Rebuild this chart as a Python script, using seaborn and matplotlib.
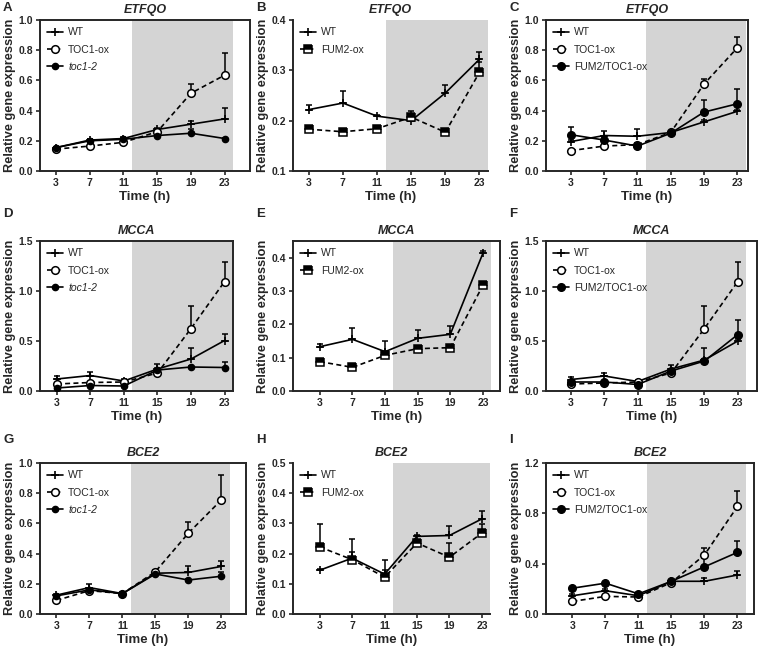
import numpy as np
import pandas as pd
import matplotlib
matplotlib.use("Agg")
import matplotlib.pyplot as plt
import seaborn as sns

hours = [3, 7, 11, 15, 19, 23]

# A - ETFQO (TOC1-ox / toc1-2)
a_wt = [0.155, 0.205, 0.215, 0.275, 0.31, 0.345]
a_wt_err = [0.005, 0.01, 0.01, 0.01, 0.02, 0.075]
a_toc1ox = [0.145, 0.165, 0.19, 0.26, 0.515, 0.635]
a_toc1ox_err = [0.005, 0.005, 0.01, 0.01, 0.06, 0.145]
a_toc12 = [0.155, 0.2, 0.21, 0.235, 0.25, 0.215]
a_toc12_err = [0.005, 0.01, 0.01, 0.01, 0.03, 0.005]

# B - ETFQO (FUM2-ox)
b_wt = [0.222, 0.235, 0.209, 0.2, 0.255, 0.322]
b_wt_err = [0.009, 0.023, 0.003, 0.004, 0.015, 0.014]
b_fum2ox = [0.183, 0.178, 0.184, 0.207, 0.177, 0.296]
b_fum2ox_err = [0.003, 0.003, 0.004, 0.013, 0.003, 0.02]

# C - ETFQO (FUM2/TOC1-ox)
c_wt = [0.195, 0.235, 0.23, 0.255, 0.325, 0.395]
c_wt_err = [0.01, 0.03, 0.045, 0.01, 0.01, 0.01]
c_toc1ox = [0.135, 0.165, 0.175, 0.255, 0.575, 0.815]
c_toc1ox_err = [0.005, 0.005, 0.01, 0.01, 0.035, 0.07]
c_fum2toc1 = [0.24, 0.205, 0.165, 0.25, 0.39, 0.445]
c_fum2toc1_err = [0.053, 0.02, 0.01, 0.01, 0.078, 0.1]

# D - MCCA (TOC1-ox / toc1-2)
d_wt = [0.12, 0.155, 0.1, 0.22, 0.32, 0.505]
d_wt_err = [0.03, 0.035, 0.02, 0.047, 0.115, 0.065]
d_toc1ox = [0.07, 0.085, 0.09, 0.18, 0.625, 1.095]
d_toc1ox_err = [0.01, 0.01, 0.01, 0.02, 0.23, 0.197]
d_toc12 = [0.03, 0.055, 0.05, 0.21, 0.24, 0.235]
d_toc12_err = [0.005, 0.005, 0.005, 0.02, 0.01, 0.06]

# E - MCCA (FUM2-ox)
e_wt = [0.133, 0.155, 0.118, 0.158, 0.17, 0.413]
e_wt_err = [0.007, 0.033, 0.032, 0.024, 0.025, 0.008]
e_fum2ox = [0.088, 0.071, 0.107, 0.127, 0.13, 0.317]
e_fum2ox_err = [0.003, 0.003, 0.003, 0.003, 0.003, 0.005]

# F - MCCA (FUM2/TOC1-ox)
f_wt = [0.115, 0.15, 0.095, 0.22, 0.31, 0.5]
f_wt_err = [0.03, 0.035, 0.02, 0.045, 0.12, 0.02]
f_toc1ox = [0.07, 0.08, 0.09, 0.18, 0.625, 1.095]
f_toc1ox_err = [0.01, 0.01, 0.01, 0.02, 0.23, 0.2]
f_fum2toc1 = [0.09, 0.09, 0.065, 0.2, 0.3, 0.565]
f_fum2toc1_err = [0.01, 0.01, 0.01, 0.02, 0.02, 0.15]

# G - BCE2 (TOC1-ox / toc1-2)
g_wt = [0.125, 0.175, 0.135, 0.27, 0.275, 0.315]
g_wt_err = [0.01, 0.025, 0.01, 0.01, 0.045, 0.038]
g_toc1ox = [0.09, 0.155, 0.135, 0.28, 0.535, 0.755]
g_toc1ox_err = [0.005, 0.01, 0.005, 0.01, 0.073, 0.165]
g_toc12 = [0.12, 0.16, 0.135, 0.265, 0.225, 0.25]
g_toc12_err = [0.005, 0.01, 0.005, 0.01, 0.005, 0.027]

# H - BCE2 (FUM2-ox)
h_wt = [0.145, 0.185, 0.132, 0.257, 0.26, 0.315]
h_wt_err = [0.003, 0.02, 0.015, 0.005, 0.033, 0.026]
h_fum2ox = [0.222, 0.18, 0.122, 0.235, 0.188, 0.268]
h_fum2ox_err = [0.077, 0.067, 0.058, 0.005, 0.046, 0.03]

# I - BCE2 (FUM2/TOC1-ox)
i_wt = [0.145, 0.185, 0.145, 0.26, 0.26, 0.31]
i_wt_err = [0.01, 0.01, 0.01, 0.01, 0.03, 0.033]
i_toc1ox = [0.1, 0.14, 0.135, 0.25, 0.47, 0.855]
i_toc1ox_err = [0.005, 0.005, 0.005, 0.01, 0.057, 0.12]
i_fum2toc1 = [0.205, 0.245, 0.16, 0.26, 0.375, 0.49]
i_fum2toc1_err = [0.005, 0.005, 0.005, 0.01, 0.07, 0.088]

sns.set_style("ticks")
plt.rcParams['font.family'] = ['Liberation Sans', 'DejaVu Sans']

# line look for each genotype
styles = {
    "WT": dict(linestyle="-", marker="+", markersize=6, markeredgewidth=1.2),
    "TOC1-ox": dict(linestyle=(0, (3, 2)), marker="o", markersize=5.5,
                    markerfacecolor="white", markeredgewidth=1.1),
    "toc1-2": dict(linestyle="-", marker="o", markersize=4.5,
                   markerfacecolor="black", markeredgewidth=1.0),
    "FUM2-ox": dict(linestyle=(0, (3, 2)), marker="s", markersize=5.5,
                    fillstyle="top", markerfacecolor="black",
                    markerfacecoloralt="white", markeredgewidth=1.1),
    "FUM2/TOC1-ox": dict(linestyle="-", marker="o", markersize=5.5,
                         markerfacecolor="black", markeredgewidth=1.0),
}

# letter, gene, series, ylim, yticks, xlim, box, rect in pixels (left, top, right, bottom), letter y
panels = [
    ("A", "ETFQO", [("WT", a_wt, a_wt_err), ("TOC1-ox", a_toc1ox, a_toc1ox_err), ("toc1-2", a_toc12, a_toc12_err)],
     (0, 1.0), [0, 0.2, 0.4, 0.6, 0.8, 1.0], (1.1, 26.0), True, (40, 20, 250, 171), 8),
    ("B", "ETFQO", [("WT", b_wt, b_wt_err), ("FUM2-ox", b_fum2ox, b_fum2ox_err)],
     (0.1, 0.4), [0.1, 0.2, 0.3, 0.4], (1.15, 24.0), False, (293, 20, 488, 171), 8),
    ("C", "ETFQO", [("WT", c_wt, c_wt_err), ("TOC1-ox", c_toc1ox, c_toc1ox_err), ("FUM2/TOC1-ox", c_fum2toc1, c_fum2toc1_err)],
     (0, 1.0), [0, 0.2, 0.4, 0.6, 0.8, 1.0], (0.0, 24.3), True, (546, 20, 748, 171), 8),
    ("D", "MCCA", [("WT", d_wt, d_wt_err), ("TOC1-ox", d_toc1ox, d_toc1ox_err), ("toc1-2", d_toc12, d_toc12_err)],
     (0, 1.5), [0, 0.5, 1.0, 1.5], (1.0, 24.0), True, (40, 241, 233, 391), 214),
    ("E", "MCCA", [("WT", e_wt, e_wt_err), ("FUM2-ox", e_fum2ox, e_fum2ox_err)],
     (0, 0.45), [0, 0.1, 0.2, 0.3, 0.4], (-0.3, 25.1), True, (293, 241, 500, 391), 214),
    ("F", "MCCA", [("WT", f_wt, f_wt_err), ("TOC1-ox", f_toc1ox, f_toc1ox_err), ("FUM2/TOC1-ox", f_fum2toc1, f_fum2toc1_err)],
     (0, 1.5), [0, 0.5, 1.0, 1.5], (0.0, 25.3), True, (546, 241, 757, 391), 214),
    ("G", "BCE2", [("WT", g_wt, g_wt_err), ("TOC1-ox", g_toc1ox, g_toc1ox_err), ("toc1-2", g_toc12, g_toc12_err)],
     (0, 1.0), [0, 0.2, 0.4, 0.6, 0.8, 1.0], (1.0, 26.0), True, (40, 463, 246, 614), 440),
    ("H", "BCE2", [("WT", h_wt, h_wt_err), ("FUM2-ox", h_fum2ox, h_fum2ox_err)],
     (0, 0.5), [0, 0.1, 0.2, 0.3, 0.4, 0.5], (-0.3, 24.0), False, (293, 463, 490, 614), 440),
    ("I", "BCE2", [("WT", i_wt, i_wt_err), ("TOC1-ox", i_toc1ox, i_toc1ox_err), ("FUM2/TOC1-ox", i_fum2toc1, i_fum2toc1_err)],
     (0, 1.2), [0, 0.4, 0.8, 1.2], (-0.2, 25.0), True, (546, 463, 754, 614), 440),
]

W, H = 760, 650
fig = plt.figure(figsize=(7.6, 6.5), dpi=100)

for letter, gene, series, ylim, yticks, xlim, box, (l, t, r, b), ly in panels:
    ax = fig.add_axes([l / W, 1 - b / H, (r - l) / W, (b - t) / H])
    ax.axvspan(12, 24, color="#d4d4d4", lw=0, zorder=0)

    for name, vals, err in series:
        ax.errorbar(hours, vals, yerr=[np.zeros(len(err)), err], fmt="none",
                    ecolor="black", elinewidth=1.1, capsize=2.5, capthick=1.1, zorder=2)
        df = pd.DataFrame({"Time": hours, "Expr": vals})
        sns.lineplot(data=df, x="Time", y="Expr", ax=ax, color="black",
                     markeredgecolor="black", linewidth=1.2, label=name,
                     zorder=3, **styles[name])

    ax.set_xlim(*xlim)
    ax.set_ylim(*ylim)
    ax.set_xticks(hours)
    ax.set_yticks(yticks)
    ax.set_yticklabels([f"{v:.1f}" for v in yticks])
    ax.tick_params(axis="both", labelsize=7.5, width=1.2, length=3, pad=2)
    for lab in ax.get_xticklabels() + ax.get_yticklabels():
        lab.set_fontweight("bold")
    for side in ["left", "bottom", "top", "right"]:
        ax.spines[side].set_linewidth(1.4)
    if not box:
        ax.spines["top"].set_visible(False)
        ax.spines["right"].set_visible(False)

    ax.set_xlabel("Time (h)", fontsize=9.5, fontweight="bold", labelpad=2)
    ax.set_ylabel("Relative gene expression", fontsize=9.2, fontweight="bold", labelpad=2)
    ax.set_title(gene, fontsize=9, style="italic", fontweight="bold", pad=5)

    leg = ax.legend(loc="upper left", frameon=False, fontsize=7.5,
                    handlelength=1.5, labelspacing=0.7, borderaxespad=0.3,
                    handletextpad=0.5)
    for txt in leg.get_texts():
        if txt.get_text() == "toc1-2":
            txt.set_fontstyle("italic")

    fig.text((l - 37) / W, 1 - ly / H, letter, fontsize=9.5,
             fontweight="bold", ha="left", va="center")

fig.savefig("out.png", dpi=100, facecolor="white")
